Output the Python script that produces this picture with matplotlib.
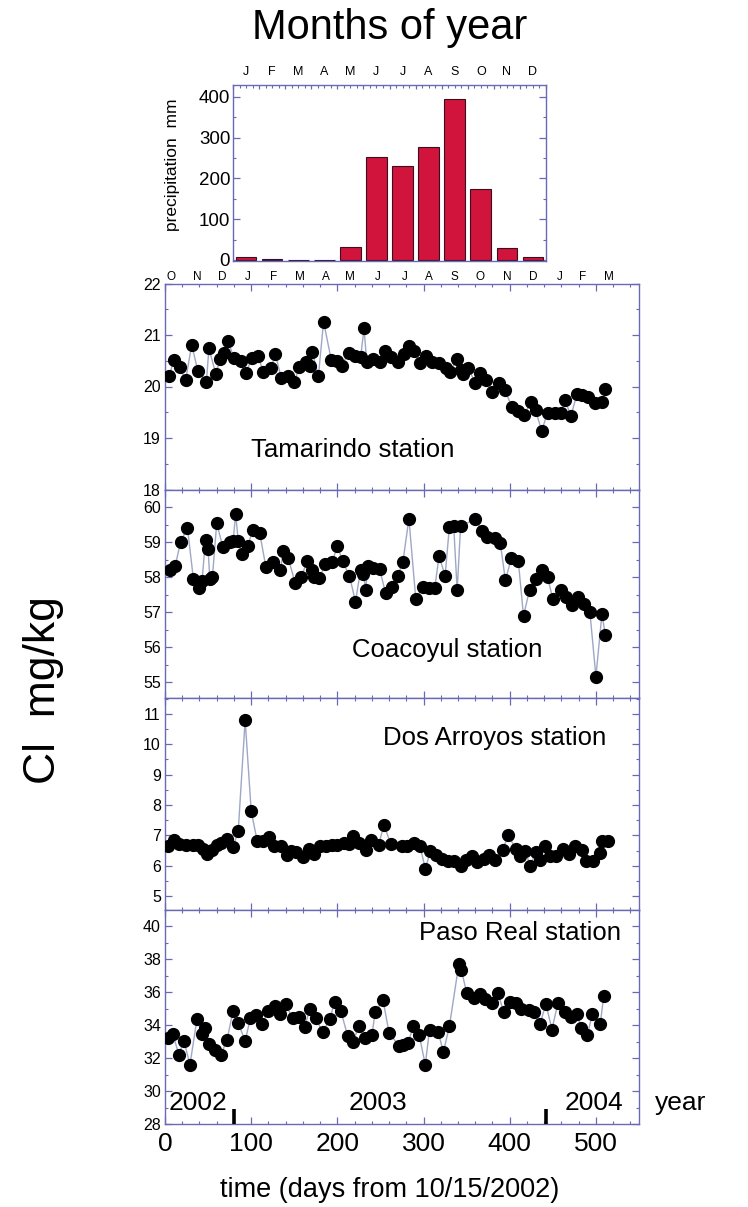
import matplotlib
matplotlib.use('Agg')
import matplotlib.pyplot as plt
from matplotlib.ticker import MultipleLocator

plt.rcParams['font.family'] = ['Liberation Sans', 'DejaVu Sans']

# ---------------- data ----------------
months_year = ['J', 'F', 'M', 'A', 'M', 'J', 'J', 'A', 'S', 'O', 'N', 'D']
precip_mm = [8, 2, 1, 1, 32, 253, 230, 276, 395, 173, 30, 8]

timeline_months = ['O', 'N', 'D', 'J', 'F', 'M', 'A', 'M', 'J', 'J', 'A', 'S',
                   'O', 'N', 'D', 'J', 'F', 'M']
timeline_month_days = [7, 37, 66, 96, 126, 157, 187, 215, 247, 278, 306, 336,
                       365, 397, 427, 458, 485, 515]

tam_days = [5, 10, 17, 24, 31, 38, 48, 51, 59, 64, 69, 73, 80, 88, 94, 101, 108,
            114, 123, 128, 135, 143, 150, 156, 164, 168, 171, 178, 184, 193, 200,
            205, 213, 221, 227, 231, 234, 241, 249, 255, 262, 270, 277, 283, 289,
            296, 303, 310, 318, 326, 331, 339, 343, 346, 352, 360, 366, 373, 380,
            387, 394, 403, 410, 416, 425, 430, 437, 444, 452, 459, 464, 471, 478,
            484, 491, 499, 507, 511]
tam_cl = [20.20, 20.51, 20.37, 20.13, 20.81, 20.31, 20.09, 20.74, 20.24, 20.53,
          20.66, 20.89, 20.55, 20.50, 20.27, 20.55, 20.59, 20.29, 20.35, 20.63,
          20.16, 20.20, 20.09, 20.38, 20.48, 20.40, 20.67, 20.20, 21.26, 20.51,
          20.50, 20.40, 20.66, 20.59, 20.57, 21.13, 20.48, 20.53, 20.48, 20.68,
          20.57, 20.48, 20.64, 20.79, 20.68, 20.46, 20.59, 20.48, 20.45, 20.35,
          20.29, 20.53, 20.32, 20.24, 20.35, 20.07, 20.27, 20.13, 19.90, 20.06,
          19.93, 19.60, 19.53, 19.45, 19.69, 19.54, 19.14, 19.49, 19.49, 19.49,
          19.74, 19.43, 19.85, 19.83, 19.79, 19.67, 19.69, 19.96]

coa_days = [6, 12, 18, 26, 33, 40, 43, 47, 50, 52, 55, 60, 67, 75, 79, 82, 85,
            89, 96, 102, 110, 117, 125, 134, 137, 143, 151, 158, 165, 170, 173,
            179, 186, 194, 200, 206, 214, 221, 227, 230, 233, 235, 241, 249, 256,
            263, 270, 276, 283, 291, 299, 306, 313, 318, 325, 330, 335, 339, 343,
            360, 368, 374, 383, 389, 395, 402, 410, 416, 423, 430, 437, 444, 450,
            459, 465, 472, 479, 486, 493, 500, 507, 511]
coa_cl = [58.19, 58.33, 59.00, 59.41, 57.94, 57.69, 57.90, 59.06, 58.79, 57.95,
          58.00, 59.54, 58.87, 59.00, 59.02, 59.80, 59.02, 58.65, 58.90, 59.35,
          59.25, 58.29, 58.42, 58.19, 58.74, 58.55, 57.83, 58.00, 58.45, 58.19,
          58.00, 57.97, 58.36, 58.42, 58.90, 58.45, 58.04, 57.30, 58.21, 58.10,
          57.64, 58.31, 58.26, 58.23, 57.54, 57.71, 58.04, 58.42, 59.67, 57.37,
          57.71, 57.69, 57.69, 58.60, 58.04, 59.44, 59.46, 57.62, 59.46, 59.65,
          59.32, 59.15, 59.13, 58.98, 57.91, 58.55, 58.45, 56.89, 57.64, 57.95,
          58.19, 58.00, 57.37, 57.62, 57.44, 57.20, 57.43, 57.23, 57.01, 55.16,
          56.95, 56.34]

dos_days = [4, 10, 16, 24, 32, 38, 44, 49, 54, 60, 65, 72, 79, 85, 93, 100, 107,
            114, 121, 126, 135, 141, 146, 152, 160, 167, 173, 180, 187, 194, 200,
            208, 214, 218, 225, 233, 239, 248, 254, 262, 275, 281, 289, 296, 302,
            308, 315, 321, 328, 335, 343, 349, 356, 362, 370, 376, 383, 392, 398,
            407, 412, 418, 424, 430, 435, 441, 447, 454, 462, 469, 476, 484, 489,
            497, 505, 507, 514]
dos_cl = [6.64, 6.86, 6.72, 6.70, 6.70, 6.68, 6.57, 6.39, 6.53, 6.70, 6.75, 6.89,
          6.61, 7.16, 10.80, 7.81, 6.81, 6.81, 6.94, 6.64, 6.64, 6.35, 6.48, 6.46,
          6.28, 6.57, 6.39, 6.64, 6.67, 6.70, 6.70, 6.75, 6.72, 6.97, 6.75, 6.53,
          6.86, 6.70, 7.35, 6.72, 6.64, 6.64, 6.75, 6.64, 5.91, 6.48, 6.37, 6.24,
          6.15, 6.17, 5.99, 6.20, 6.31, 6.13, 6.24, 6.35, 6.20, 6.53, 7.00, 6.57,
          6.31, 6.48, 5.99, 6.46, 6.20, 6.64, 6.31, 6.31, 6.57, 6.39, 6.64, 6.53,
          6.15, 6.15, 6.42, 6.83, 6.81]

pas_days = [3, 9, 16, 22, 29, 37, 43, 46, 51, 58, 65, 72, 79, 85, 93, 99, 106,
            113, 120, 128, 134, 140, 148, 156, 162, 168, 175, 183, 191, 197, 204,
            212, 218, 225, 232, 240, 244, 253, 260, 272, 276, 282, 288, 295, 302,
            307, 317, 323, 330, 341, 344, 350, 358, 365, 371, 379, 386, 393, 400,
            407, 413, 422, 428, 435, 442, 449, 456, 464, 471, 478, 483, 490, 496,
            505, 509]
pas_cl = [33.25, 33.49, 32.22, 33.04, 31.61, 34.35, 33.49, 33.86, 32.84, 32.51,
          32.22, 33.13, 34.88, 34.14, 33.04, 34.41, 34.61, 34.10, 34.88, 35.16,
          34.67, 35.29, 34.41, 34.47, 33.90, 34.96, 34.41, 33.59, 34.35, 35.43,
          34.88, 33.33, 32.98, 33.94, 33.25, 33.39, 34.82, 35.53, 33.53, 32.72,
          32.80, 32.90, 33.94, 33.39, 31.61, 33.74, 33.59, 32.37, 33.94, 37.74,
          37.33, 35.98, 35.64, 35.90, 35.57, 35.37, 35.98, 34.82, 35.43, 35.37,
          34.96, 34.92, 34.82, 34.06, 35.29, 33.74, 35.37, 34.82, 34.51, 34.67,
          33.86, 33.39, 34.70, 34.05, 35.75]

year_labels = ['2002', '2003', '2004']
year_label_days = [38, 247, 498]
year_boundary_days = [80, 442]

# ---------------- figure ----------------
W, H = 748, 1207
fig = plt.figure(figsize=(W / 100, H / 100), dpi=100)
fig.patch.set_facecolor('white')

spine_c = '#6a6ab4'
line_c = '#9ea8c6'
bar_c = '#d0143c'


def ax_px(left, top, right, bottom):
    return fig.add_axes([left / W, 1 - bottom / H, (right - left) / W,
                         (bottom - top) / H])


def style(ax):
    for s in ax.spines.values():
        s.set_color(spine_c)
        s.set_linewidth(1.0)
    ax.tick_params(which='both', direction='in', color=spine_c,
                   top=True, right=True)
    ax.tick_params(which='major', length=5, width=0.9)
    ax.tick_params(which='minor', length=2.5, width=0.8)


# ---- precipitation bar chart ----
axb = ax_px(233, 85, 546, 261)
style(axb)
xb = [i + 0.5 for i in range(len(months_year))]
axb.bar(xb, precip_mm, width=0.79, color=bar_c, edgecolor='#3a1020',
        linewidth=0.8, zorder=2)
axb.set_xlim(0, 12)
axb.set_ylim(-2.5, 429)
axb.yaxis.set_major_locator(MultipleLocator(100))
axb.yaxis.set_minor_locator(MultipleLocator(50))
axb.xaxis.set_major_locator(MultipleLocator(1))
axb.xaxis.set_minor_locator(MultipleLocator(0.25))
axb.tick_params(axis='x', bottom=False, which='both', labelbottom=False)
axb.tick_params(axis='x', which='major', length=3)
axb.tick_params(axis='y', labelsize=13.5, pad=2)
for m, x in zip(months_year, xb):
    axb.text(x, 1.072, m, transform=axb.get_xaxis_transform(), ha='center',
             va='center', fontsize=9)
fig.text(173 / W, 1 - 165 / H, 'precipitation  mm', rotation=90,
         ha='center', va='center', fontsize=12.5)

# ---- station panels ----
panels = [
    (283.5, 489.5, (18, 22), 1, 0.5, tam_days, tam_cl, 'Tamarindo station', (218, 18.77)),
    (489.5, 698, (54.55, 60.5), 1, 0.5, coa_days, coa_cl, 'Coacoyul station', (327, 55.91)),
    (698, 910, (4.55, 11.52), 1, 0.5, dos_days, dos_cl, 'Dos Arroyos station', (383, 10.21)),
    (910, 1124, (28, 41), 2, 1, pas_days, pas_cl, 'Paso Real station', (412, 39.63)),
]

axes = []
for top, bot, ylim, maj, mino, days, vals, name, pos in panels:
    ax = ax_px(165, top, 639, bot)
    style(ax)
    ax.plot(days, vals, '-', color=line_c, lw=1.0, zorder=2)
    ax.plot(days, vals, 'o', ms=8.5, mfc='black', mec='black', zorder=3)
    ax.set_xlim(0, 550)
    ax.set_ylim(*ylim)
    ax.xaxis.set_major_locator(MultipleLocator(100))
    ax.xaxis.set_minor_locator(MultipleLocator(20))
    ax.yaxis.set_major_locator(MultipleLocator(maj))
    ax.yaxis.set_minor_locator(MultipleLocator(mino))
    ax.tick_params(axis='y', labelsize=11.5, pad=3)
    ax.tick_params(axis='x', labelbottom=False)
    ax.text(pos[0], pos[1], name, ha='center', va='center', fontsize=18.5)
    axes.append(ax)

ax_t = axes[0]
for m, d in zip(timeline_months, timeline_month_days):
    ax_t.text(d, 1.031, m, transform=ax_t.get_xaxis_transform(), ha='center',
              va='center', fontsize=8.5)

ax_p = axes[-1]
ax_p.tick_params(axis='x', labelbottom=True, labelsize=19, pad=6)
ax_p.vlines(year_boundary_days, 28, 28.9, colors='black', lw=2.6, zorder=4)
for lab, d in zip(year_labels, year_label_days):
    ax_p.text(d, 29.25, lab, ha='center', va='center', fontsize=19)
fig.text(681 / W, 1 - 1103 / H, 'year', ha='center', va='center', fontsize=19)

# ---- figure texts ----
fig.text(390 / W, 1 - 28 / H, 'Months of year', ha='center', va='center',
         fontsize=30)
fig.text(44 / W, 1 - 690 / H, 'Cl  mg/kg', rotation=90, ha='center',
         va='center', fontsize=32)
fig.text(390 / W, 1 - 1190 / H, 'time (days from 10/15/2002)', ha='center',
         va='center', fontsize=19.5)

fig.savefig('out.png', dpi=100)
